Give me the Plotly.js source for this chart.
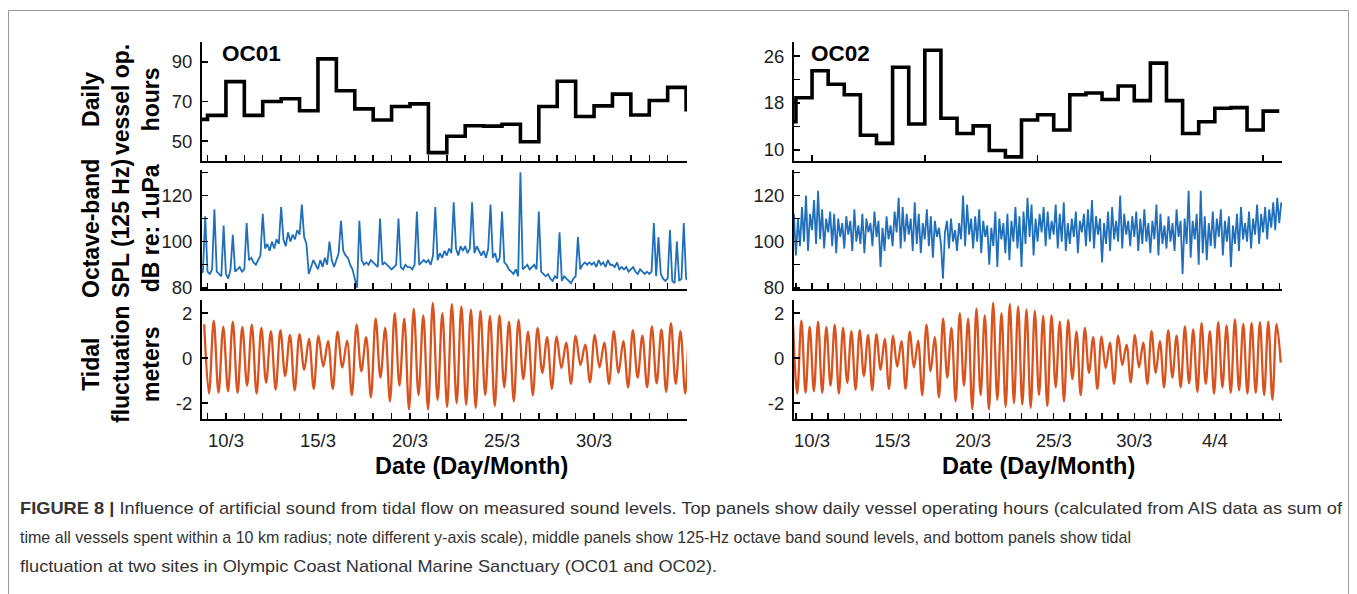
<!DOCTYPE html>
<html>
<head>
<meta charset="utf-8">
<script src="https://cdn.plot.ly/plotly-3.0.1.min.js"></script>
<style>
  html, body { margin: 0; padding: 0; background: #ffffff; }
  #fig { width: 1357px; height: 594px; }
</style>
</head>
<body>
<div id="fig"></div>
<script>
// ---- Daily vessel operating hours (one value per day, day-of-March; 32 = 1 April) ----
const vesselDaysOC01 = [8, 9, 10, 11, 12, 13, 14, 15, 16, 17, 18, 19, 20, 21, 22, 23, 24, 25, 26, 27, 28, 29, 30, 31, 32, 33, 34, 35];
const vesselHoursOC01 = [61, 63, 80, 63, 70, 71.4, 65.3, 91.5, 75.4, 66.3, 60.7, 67.5, 68.8, 44.2, 52.5, 57.8, 57.6, 58.5, 49.7, 67.5, 80.2, 62.4, 67.8, 73.7, 63.2, 70.5, 77.1, 65];

const vesselDaysOC02 = [8, 9, 10, 11, 12, 13, 14, 15, 16, 17, 18, 19, 20, 21, 22, 23, 24, 25, 26, 27, 28, 29, 30, 31, 32, 33, 34, 35, 36, 37, 38, 39];
const vesselHoursOC02 = [14.8, 18.9, 23.5, 21.2, 19.4, 12.5, 11.1, 24.1, 14.4, 27.0, 15.4, 12.8, 14.1, 9.9, 8.8, 15.1, 16.0, 13.4, 19.4, 19.7, 18.6, 20.9, 18.4, 24.8, 18.4, 12.8, 14.8, 17.1, 17.2, 13.4, 16.6, 16.6];

// ---- 125-Hz octave band SPL (dB re 1 uPa), 3-hourly, first sample at 8 March 00:00 ----
const splStartDay = 8;
const splStepDays = 0.125;
const splOC01 = [
  88, 87, 86, 87, 88, 86, 87, 111,
  87, 86, 88, 114, 87, 86, 85, 107,
  86, 84, 88, 103, 87, 88, 89, 87,
  88, 108, 92, 93, 91, 90, 92, 94,
  112, 97, 99, 96, 100, 97, 101, 99,
  115, 101, 98, 104, 100, 103, 101, 105,
  103, 116, 102, 99, 86, 89, 92, 90,
  88, 92, 89, 93, 90, 100, 92, 89,
  92, 95, 109, 96, 94, 93, 90, 88,
  84, 80, 109, 92, 90, 91, 90, 92,
  91, 90, 89, 110, 90, 91, 90, 89,
  88, 89, 90, 110, 89, 88, 90, 89,
  89, 88, 90, 113, 90, 91, 92, 91,
  92, 90, 94, 115, 92, 95, 93, 96,
  94, 97, 95, 117, 97, 94, 98, 96,
  98, 95, 97, 117, 95, 98, 96, 94,
  96, 93, 97, 116, 93, 95, 91, 93,
  113, 91, 90, 88, 87, 86, 88, 85,
  130, 88, 89, 90, 88, 89, 90, 88,
  113, 87, 86, 85, 86, 84, 83, 85,
  84, 104, 83, 85, 84, 83, 82, 84,
  85, 102, 88, 90, 91, 90, 91, 90,
  91, 89, 92, 90, 91, 89, 92, 90,
  90, 89, 91, 88, 89, 88, 89, 87,
  88, 89, 87, 86, 88, 87, 86, 87,
  86, 87, 108, 85, 102, 86, 84, 83,
  84, 105, 83, 82, 100, 83, 84, 108,
  84, 83
];
const splOC02 = [
  108, 112, 100, 114, 96, 110, 103, 112,
  94, 110, 98, 115, 100, 120, 96, 112,
  105, 118, 99, 122, 101, 114, 97, 110,
  104, 113, 98, 112, 95, 110, 102, 108,
  97, 111, 103, 109, 96, 114, 100, 107,
  99, 112, 95, 110, 104, 108, 98, 113,
  102, 109, 89, 106, 96, 111, 101, 107,
  98, 113, 104, 119, 97, 115, 100, 112,
  103, 110, 96, 117, 99, 112, 95, 108,
  101, 114, 98, 111, 93, 109, 102, 106,
  99, 84, 104, 109, 97, 110, 100, 105,
  96, 108, 101, 120, 98, 116, 103, 110,
  97, 111, 100, 114, 95, 109, 102, 107,
  90, 106, 98, 113, 89, 110, 101, 108,
  95, 112, 92, 109, 100, 115, 97, 111,
  89, 113, 99, 119, 102, 116, 94, 110,
  100, 112, 104, 115, 98, 113, 101, 109,
  103, 116, 97, 112, 100, 117, 96, 108,
  99, 110, 102, 113, 95, 109, 104, 112,
  98, 114, 100, 118, 97, 111, 103, 110,
  91, 108, 99, 113, 96, 115, 101, 109,
  100, 120, 97, 112, 103, 109, 98, 111,
  102, 113, 96, 110, 99, 114, 100, 108,
  95, 109, 101, 116, 94, 112, 99, 107,
  97, 111, 100, 108, 96, 114, 102, 109,
  86, 110, 99, 122, 93, 109, 101, 112,
  90, 122, 95, 111, 92, 108, 98, 113,
  97, 110, 102, 114, 94, 109, 100, 111,
  89, 107, 99, 112, 96, 115, 101, 108,
  100, 113, 97, 110, 103, 116, 99, 112,
  104, 115, 101, 114, 106, 117, 105, 119,
  108, 117
];

// ---- Tidal fluctuation (m): successive high / low water levels, half a tidal cycle apart ----
const tideStartDay = 8.82;
const tideStepDays = 12.42 / 24 / 2;
const tideHighs = [1.5, 1.66, 1.4, 1.62, 1.38, 1.48, 1.34, 1.2, 1.24, 1.03, 1.06, 0.85, 0.99, 0.75, 1.17, 0.77, 1.48, 0.93, 1.75, 1.34, 2.0, 1.75, 2.2, 1.9, 2.45, 2.0, 2.4, 2.3, 2.15, 2.1, 1.87, 1.9, 1.62, 1.69, 1.17, 1.34, 0.93, 0.96, 0.68, 0.99, 0.6, 1.03, 0.68, 1.2, 0.75, 1.24, 0.99, 1.41, 1.27, 1.55, 1.2, 1.59, 1.45, 1.72, 1.52, 1.56, 1.59, 1.62, 1.52];
// the record ends part-way down the last ebb (-0.2 m)
const tideLows = [-1.58, -1.55, -1.48, -1.55, -1.23, -1.58, -1.1, -1.41, -0.8, -1.44, -0.52, -1.37, -0.38, -1.37, -0.42, -1.65, -0.59, -1.75, -0.87, -1.93, -1.23, -2.28, -1.65, -2.28, -1.86, -2.17, -2.0, -2.07, -2.21, -1.65, -2.14, -1.3, -1.93, -0.94, -1.65, -0.66, -1.37, -0.45, -1.15, -0.31, -1.08, -0.42, -1.15, -0.66, -1.3, -0.87, -1.3, -1.13, -1.51, -1.15, -1.58, -1.3, -1.55, -1.44, -1.58, -1.55, -1.65, -1.86, -0.2];

// ---- Axis labels ----
const labelDaysOC01 = [10, 15, 20, 25, 30];
const labelDaysOC02 = [10, 15, 20, 25, 30, 35];
const weeklyTickDaysOC02 = [10, 17, 24, 31, 38];
const yTicksVesselOC01 = [50, 70, 90];
const yTicksVesselOC02 = [10, 14, 18, 22, 26];
const yLabelsVesselOC02 = ['10', '', '18', '', '26'];
const yTicksSpl = [80, 90, 100, 110, 120, 130];
const yLabelsSpl = ['80', '', '100', '', '120', ''];
const yTicksTide = [-2, 0, 2];
const siteNames = ['OC01', 'OC02'];
const panelTitles = ['Daily<br>vessel op.<br>hours', 'Octave-band<br>SPL (125 Hz)<br>dB re: 1uPa', 'Tidal<br>fluctuation<br>meters'];
const dateAxisTitle = 'Date (Day/Month)';
const captionLines = [
  '<b>FIGURE 8 |</b> Influence of artificial sound from tidal flow on measured sound levels. Top panels show daily vessel operating hours (calculated from AIS data as sum of',
  'time all vessels spent within a 10 km radius; note different y-axis scale), middle panels show 125-Hz octave band sound levels, and bottom panels show tidal',
  'fluctuation at two sites in Olympic Coast National Marine Sanctuary (OC01 and OC02).'
];

// ---- helpers ----
const W = 1357, H = 594;
const fx = p => p / W;
const fy = p => 1 - p / H;
const FONT = 'Liberation Sans, Arial, Helvetica, sans-serif';
const seq = (start, step, n) => Array.from({length: n}, (_, i) => start + i * step);
const dayLabel = d => d <= 31 ? d + '/3' : (d - 31) + '/4';
const dailyTicks = (a, b) => seq(a, 1, b - a + 1);

const splDays01 = seq(splStartDay, splStepDays, splOC01.length);
const splDays02 = seq(splStartDay, splStepDays, splOC02.length);
const tideLevels = [];
for (let i = 0; i < tideHighs.length; i++) {
  tideLevels.push(tideHighs[i]);
  if (i < tideLows.length) tideLevels.push(tideLows[i]);
}
const tideDays = seq(tideStartDay, tideStepDays, tideLevels.length);

const rangeOC01 = [8.70, 35.05];
const rangeOC02 = [8.88, 39.17];

const colLeft = [fx(202), fx(687)];
const colRight = [fx(794), fx(1282)];
const rowTop = [fy(161), fy(42)];
const rowMid = [fy(289), fy(170)];
const rowBot = [fy(419), fy(300)];

const BLUE = '#1f6fba';
const ORANGE = '#d9531e';

function xAxis(domain, anchor, range, tickvals, ticktext) {
  return {
    domain, anchor, range,
    showline: true, linecolor: '#000', linewidth: 2,
    ticks: 'inside', ticklen: 6, tickwidth: 1.5, tickcolor: '#000',
    tickvals, ticktext: ticktext || tickvals.map(() => ''),
    showticklabels: !!ticktext,
    tickfont: {family: FONT, size: 18.5, color: '#222'},
    ticklabelstandoff: 4,
    showgrid: false, zeroline: false, fixedrange: true
  };
}
function yAxis(domain, anchor, range, tickvals, ticktext) {
  return {
    domain, anchor, range,
    showline: true, linecolor: '#000', linewidth: 2,
    ticks: 'inside', ticklen: 6, tickwidth: 1.5, tickcolor: '#000',
    tickvals, ticktext: ticktext || tickvals.map(String),
    tickfont: {family: FONT, size: 18.5, color: '#222'},
    ticklabelstandoff: 4,
    showgrid: false, zeroline: false, fixedrange: true
  };
}

const ticksL = dailyTicks(9, 35);
const ticksR = dailyTicks(9, 39);
const labelsL = ticksL.map(d => labelDaysOC01.includes(d) ? dayLabel(d) : '');
const labelsR = ticksR.map(d => labelDaysOC02.includes(d) ? dayLabel(d) : '');

const traces = [
  {x: vesselDaysOC01, y: vesselHoursOC01, xaxis: 'x', yaxis: 'y', type: 'scatter', mode: 'lines',
   line: {shape: 'hv', color: '#000', width: 3.6}},
  {x: splDays01, y: splOC01, xaxis: 'x2', yaxis: 'y2', type: 'scatter', mode: 'lines',
   line: {color: BLUE, width: 1.8}},
  {x: tideDays, y: tideLevels, xaxis: 'x3', yaxis: 'y3', type: 'scatter', mode: 'lines',
   line: {color: ORANGE, width: 2.3, shape: 'spline', smoothing: 1}},
  {x: vesselDaysOC02, y: vesselHoursOC02, xaxis: 'x4', yaxis: 'y4', type: 'scatter', mode: 'lines',
   line: {shape: 'hv', color: '#000', width: 3.6}},
  {x: splDays02, y: splOC02, xaxis: 'x5', yaxis: 'y5', type: 'scatter', mode: 'lines',
   line: {color: BLUE, width: 1.8}},
  {x: tideDays, y: tideLevels, xaxis: 'x6', yaxis: 'y6', type: 'scatter', mode: 'lines',
   line: {color: ORANGE, width: 2.3, shape: 'spline', smoothing: 1}}
];

const annotations = [];
// site names
annotations.push({xref: 'paper', yref: 'paper', x: fx(220), y: fy(53.5), xanchor: 'left', yanchor: 'middle',
  text: '<b>' + siteNames[0] + '</b>', showarrow: false, font: {family: FONT, size: 22.5, color: '#000'}});
annotations.push({xref: 'paper', yref: 'paper', x: fx(809), y: fy(53.5), xanchor: 'left', yanchor: 'middle',
  text: '<b>' + siteNames[1] + '</b>', showarrow: false, font: {family: FONT, size: 22.5, color: '#000'}});
// rotated panel titles
const titleCentres = [100, 229, 364];
panelTitles.forEach((t, i) => {
  annotations.push({xref: 'paper', yref: 'paper', x: fx(121), y: fy(titleCentres[i]), xanchor: 'center', yanchor: 'middle',
    text: '<b>' + t + '</b>', textangle: -90, showarrow: false, font: {family: FONT, size: 23, color: '#000'}});
});
// date axis titles
annotations.push({xref: 'paper', yref: 'paper', x: fx(471), y: fy(466), xanchor: 'center', yanchor: 'middle',
  text: '<b>' + dateAxisTitle + '</b>', showarrow: false, font: {family: FONT, size: 23.5, color: '#000'}});
annotations.push({xref: 'paper', yref: 'paper', x: fx(1038), y: fy(466), xanchor: 'center', yanchor: 'middle',
  text: '<b>' + dateAxisTitle + '</b>', showarrow: false, font: {family: FONT, size: 23.5, color: '#000'}});
// caption, one annotation per line; each line is fitted to its set width after drawing
const captionFirst = annotations.length;
const captionY = [508, 537, 566];
const captionWidths = [1322, 1111, 697];
captionLines.forEach((t, i) => {
  annotations.push({xref: 'paper', yref: 'paper', x: fx(18), y: fy(captionY[i]), xanchor: 'left', yanchor: 'middle',
    text: t, showarrow: false, font: {family: FONT, size: 17, color: '#333'}});
});

const layout = {
  width: W, height: H,
  margin: {l: 0, r: 0, t: 0, b: 0},
  paper_bgcolor: '#fff', plot_bgcolor: 'rgba(0,0,0,0)',
  showlegend: false,
  xaxis: xAxis(colLeft, 'y', rangeOC01, ticksL),
  yaxis: yAxis(rowTop, 'x', [40, 100], yTicksVesselOC01),
  xaxis2: xAxis(colLeft, 'y2', rangeOC01, ticksL),
  yaxis2: yAxis(rowMid, 'x2', [79.5, 131], yTicksSpl, yLabelsSpl),
  xaxis3: xAxis(colLeft, 'y3', rangeOC01, ticksL, labelsL),
  yaxis3: yAxis(rowBot, 'x3', [-2.71, 2.58], yTicksTide),
  xaxis4: xAxis(colRight, 'y4', rangeOC02, weeklyTickDaysOC02),
  yaxis4: yAxis(rowTop, 'x4', [8.1, 28.4], yTicksVesselOC02, yLabelsVesselOC02),
  xaxis5: xAxis(colRight, 'y5', rangeOC02, ticksR),
  yaxis5: yAxis(rowMid, 'x5', [79.5, 131], yTicksSpl, yLabelsSpl),
  xaxis6: xAxis(colRight, 'y6', rangeOC02, ticksR, labelsR),
  yaxis6: yAxis(rowBot, 'x6', [-2.71, 2.58], yTicksTide),
  annotations,
  shapes: [
    {type: 'rect', xref: 'paper', yref: 'paper', x0: fx(8.5), x1: fx(1348.5), y0: -0.05, y1: fy(10.5),
     line: {color: '#9a9a9a', width: 1}, fillcolor: 'rgba(0,0,0,0)', layer: 'below'}
  ]
};

Plotly.newPlot('fig', traces, layout, {staticPlot: true, displayModeBar: false}).then(gd => {
  // stretch / squeeze each caption line to its width, keeping its left edge in place
  captionWidths.forEach((w, i) => {
    const t = gd.querySelector('g.annotation[data-index="' + (captionFirst + i) + '"] text.annotation-text');
    if (!t) return;
    const bb = t.getBBox();
    t.setAttribute('text-anchor', 'start');
    t.style.textAnchor = 'start';
    t.setAttribute('x', bb.x);
    t.setAttribute('textLength', w);
    t.setAttribute('lengthAdjust', 'spacingAndGlyphs');
  });
});
</script>
</body>
</html>
